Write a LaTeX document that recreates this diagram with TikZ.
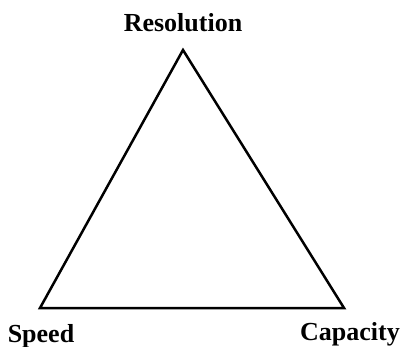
\documentclass[tikz,border=0pt]{standalone}
\usepackage{fontspec}
\setmainfont{Liberation Serif}

\begin{document}
\begin{tikzpicture}[x=1pt,y=-1pt]
\tikzset{lbl/.style={font=\fontsize{26}{30}\selectfont\bfseries,inner sep=0pt,anchor=base}}
\useasboundingbox (0,0) rectangle (401,347);
\coordinate (res) at (183,50);
\coordinate (spd) at (40,308);
\coordinate (cap) at (344,308);
\draw[line width=2.5pt,line join=miter] (spd) -- (res) -- (cap) -- cycle;
\node[lbl] (resl) at (183,32) {Resolution};
\node[lbl] (spdl) at (41,342) {Speed};
\node[lbl] (capl) at (350,340) {Capacity};
\end{tikzpicture}
\end{document}
